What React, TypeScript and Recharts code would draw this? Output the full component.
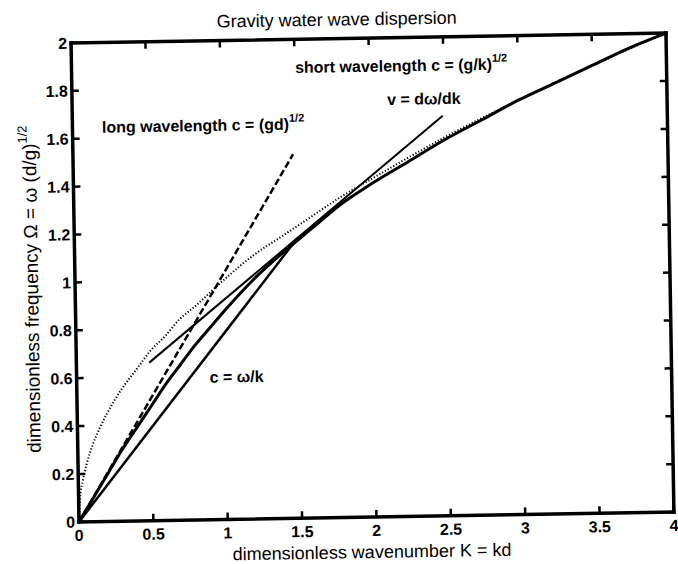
import { LineChart, Line, XAxis, YAxis, ReferenceDot, ReferenceLine } from 'recharts';

// full dispersion curve  Omega(K)
const dispK = [0, 0.1, 0.2, 0.3, 0.4, 0.5, 0.6, 0.7, 0.8, 0.9, 1.0, 1.2, 1.4, 1.6, 1.8, 2.0, 2.25, 2.5, 2.75, 3.0, 3.25, 3.5, 3.75, 4.0];
const dispW = [0, 0.1, 0.2, 0.3, 0.39, 0.48, 0.57, 0.65, 0.73, 0.8, 0.87, 1.0, 1.11, 1.21, 1.31, 1.39, 1.48, 1.57, 1.65, 1.73, 1.8, 1.87, 1.94, 2.0];

// short wavelength limit (dotted)
const shortK = [0, 0.01, 0.03, 0.06, 0.1, 0.15, 0.2, 0.3, 0.4, 0.5, 0.6, 0.7, 0.8, 1.0, 1.2, 1.4, 1.6, 1.8, 2.0, 2.5, 3.0, 3.5, 4.0];
const shortW = [0, 0.1, 0.17, 0.245, 0.32, 0.39, 0.45, 0.55, 0.63, 0.71, 0.77, 0.84, 0.89, 1.0, 1.1, 1.18, 1.26, 1.34, 1.41, 1.58, 1.73, 1.87, 2.0];

// long wavelength limit (dashed)
const longK = [0, 1.48];
const longW = [0, 1.52];

// phase speed chord c = w/k
const phaseK = [0, 1.5];
const phaseW = [0, 1.17];

// group speed tangent v = dw/dk
const groupK = [0.49, 2.49];
const groupW = [0.66, 1.67];

const xTicks = [0, 0.5, 1, 1.5, 2, 2.5, 3, 3.5, 4];
const yTicks = [0, 0.2, 0.4, 0.6, 0.8, 1, 1.2, 1.4, 1.6, 1.8, 2];

const noteText = ['short wavelength c = (g/k)', 'v = d\u03c9/dk', 'long wavelength c = (gd)', 'c = \u03c9/k'];
const noteSup = ['1/2', '', '1/2', ''];
const noteK = [1.503, 2.118, 0.198, 0.894];
const noteW = [1.859, 1.719, 1.623, 0.572];

const FONT = '"Liberation Sans", Arial, Helvetica, sans-serif';
const W = 678;
const H = 564;
const X_MAX = 4;
const Y_MAX = 2;
// inward tick length, in axis units (about 7px)
const TICK_X = 0.047;
const TICK_Y = 0.029;

const zip = (ks: number[], ws: number[]) => ks.map((k, i) => ({ k, w: ws[i] }));

const frameStroke = { stroke: '#000', strokeWidth: 3.5, strokeLinecap: 'square' as const };

const XTick = (props: any) => {
  const { x, y, payload } = props;
  return (
    <text x={x} y={y + 19} textAnchor="middle" fontSize={16} fontWeight="bold" fontFamily={FONT} fill="#000">
      {payload.value}
    </text>
  );
};

const YTick = (props: any) => {
  const { x, y, payload } = props;
  return (
    <text x={x - 4} y={y} dy="0.36em" textAnchor="end" fontSize={16} fontWeight="bold" fontFamily={FONT} fill="#000">
      {payload.value}
    </text>
  );
};

const renderNote = (i: number) => (props: any) => {
  const { viewBox } = props;
  const x = viewBox.x + (viewBox.width || 0) / 2;
  const y = viewBox.y + (viewBox.height || 0) / 2;
  return (
    <text x={x} y={y} fontSize={16} fontWeight="bold" fontFamily={FONT} fill="#000">
      {noteText[i]}
      {noteSup[i] && (
        <tspan dy={-8} fontSize={11}>
          {noteSup[i]}
        </tspan>
      )}
    </text>
  );
};

const renderXLabel = (props: any) => {
  const { viewBox } = props;
  return (
    <text x={viewBox.x + viewBox.width / 2 - 5} y={viewBox.y + 41} textAnchor="middle" fontSize={18} fontFamily={FONT} fill="#000">
      dimensionless wavenumber K = kd
    </text>
  );
};

const renderYLabel = (props: any) => {
  const { viewBox } = props;
  const cx = 38;
  const cy = viewBox.y + viewBox.height / 2 + 6;
  return (
    <text x={cx} y={cy} transform={`rotate(-90 ${cx} ${cy})`} textAnchor="middle" fontSize={19} fontFamily={FONT} fill="#000">
      dimensionless frequency {'\u03a9'} = {'\u03c9'} (d/g)
      <tspan dy={-9} fontSize={13}>1/2</tspan>
    </text>
  );
};

// matlab style inward ticks on all four sides
const tickSegments = [
  ...xTicks.map((t) => [{ x: t, y: 0 }, { x: t, y: TICK_Y }]),
  ...xTicks.map((t) => [{ x: t, y: Y_MAX }, { x: t, y: Y_MAX - TICK_Y }]),
  ...yTicks.map((t) => [{ x: 0, y: t }, { x: TICK_X, y: t }]),
  ...yTicks.map((t) => [{ x: X_MAX, y: t }, { x: X_MAX - TICK_X, y: t }]),
];

export default function App() {
  return (
    <div
      style={{
        position: 'absolute',
        left: 0,
        top: 0,
        width: W,
        height: H,
        background: '#fff',
        transform: 'rotate(-0.95deg)',
        transformOrigin: '372px 278px',
      }}
    >
      <div
        style={{
          position: 'absolute',
          top: 10,
          left: 0,
          width: W,
          paddingLeft: 4,
          boxSizing: 'border-box',
          textAlign: 'center',
          fontFamily: FONT,
          fontSize: 18,
          lineHeight: '18px',
          color: '#000',
        }}
      >
        Gravity water wave dispersion
      </div>
      <LineChart width={W} height={H} margin={{ top: 38, right: 8, bottom: 0, left: 0 }}>
        <XAxis
          dataKey="k"
          type="number"
          domain={[0, X_MAX]}
          ticks={xTicks}
          height={47}
          axisLine={frameStroke}
          tickLine={false}
          tickSize={0}
          tickMargin={0}
          tick={<XTick />}
          interval={0}
          label={{ content: renderXLabel }}
        />
        <XAxis xAxisId="top" orientation="top" mirror type="number" domain={[0, X_MAX]} axisLine={frameStroke} tick={false} tickLine={false} />
        <YAxis
          type="number"
          domain={[0, Y_MAX]}
          ticks={yTicks}
          width={75}
          axisLine={frameStroke}
          tickLine={false}
          tickSize={0}
          tickMargin={0}
          tick={<YTick />}
          interval={0}
          label={{ content: renderYLabel }}
        />
        <YAxis yAxisId="right" orientation="right" mirror type="number" domain={[0, Y_MAX]} axisLine={frameStroke} tick={false} tickLine={false} />
        {tickSegments.map((seg, i) => (
          <ReferenceLine key={`t${i}`} segment={seg} stroke="#000" strokeWidth={2.5} />
        ))}
        <Line data={zip(shortK, shortW)} dataKey="w" type="monotone" stroke="#000" strokeWidth={2} strokeDasharray="1.2 2" dot={false} isAnimationActive={false} />
        <Line data={zip(longK, longW)} dataKey="w" type="linear" stroke="#000" strokeWidth={2.5} strokeDasharray="7 3" dot={false} isAnimationActive={false} />
        <Line data={zip(phaseK, phaseW)} dataKey="w" type="linear" stroke="#000" strokeWidth={2.5} dot={false} isAnimationActive={false} />
        <Line data={zip(groupK, groupW)} dataKey="w" type="linear" stroke="#000" strokeWidth={2} dot={false} isAnimationActive={false} />
        <Line data={zip(dispK, dispW)} dataKey="w" type="monotone" stroke="#000" strokeWidth={3} dot={false} isAnimationActive={false} />
        {noteText.map((_, i) => (
          <ReferenceDot key={i} x={noteK[i]} y={noteW[i]} r={0} fill="none" stroke="none" label={{ content: renderNote(i) }} />
        ))}
      </LineChart>
    </div>
  );
}
